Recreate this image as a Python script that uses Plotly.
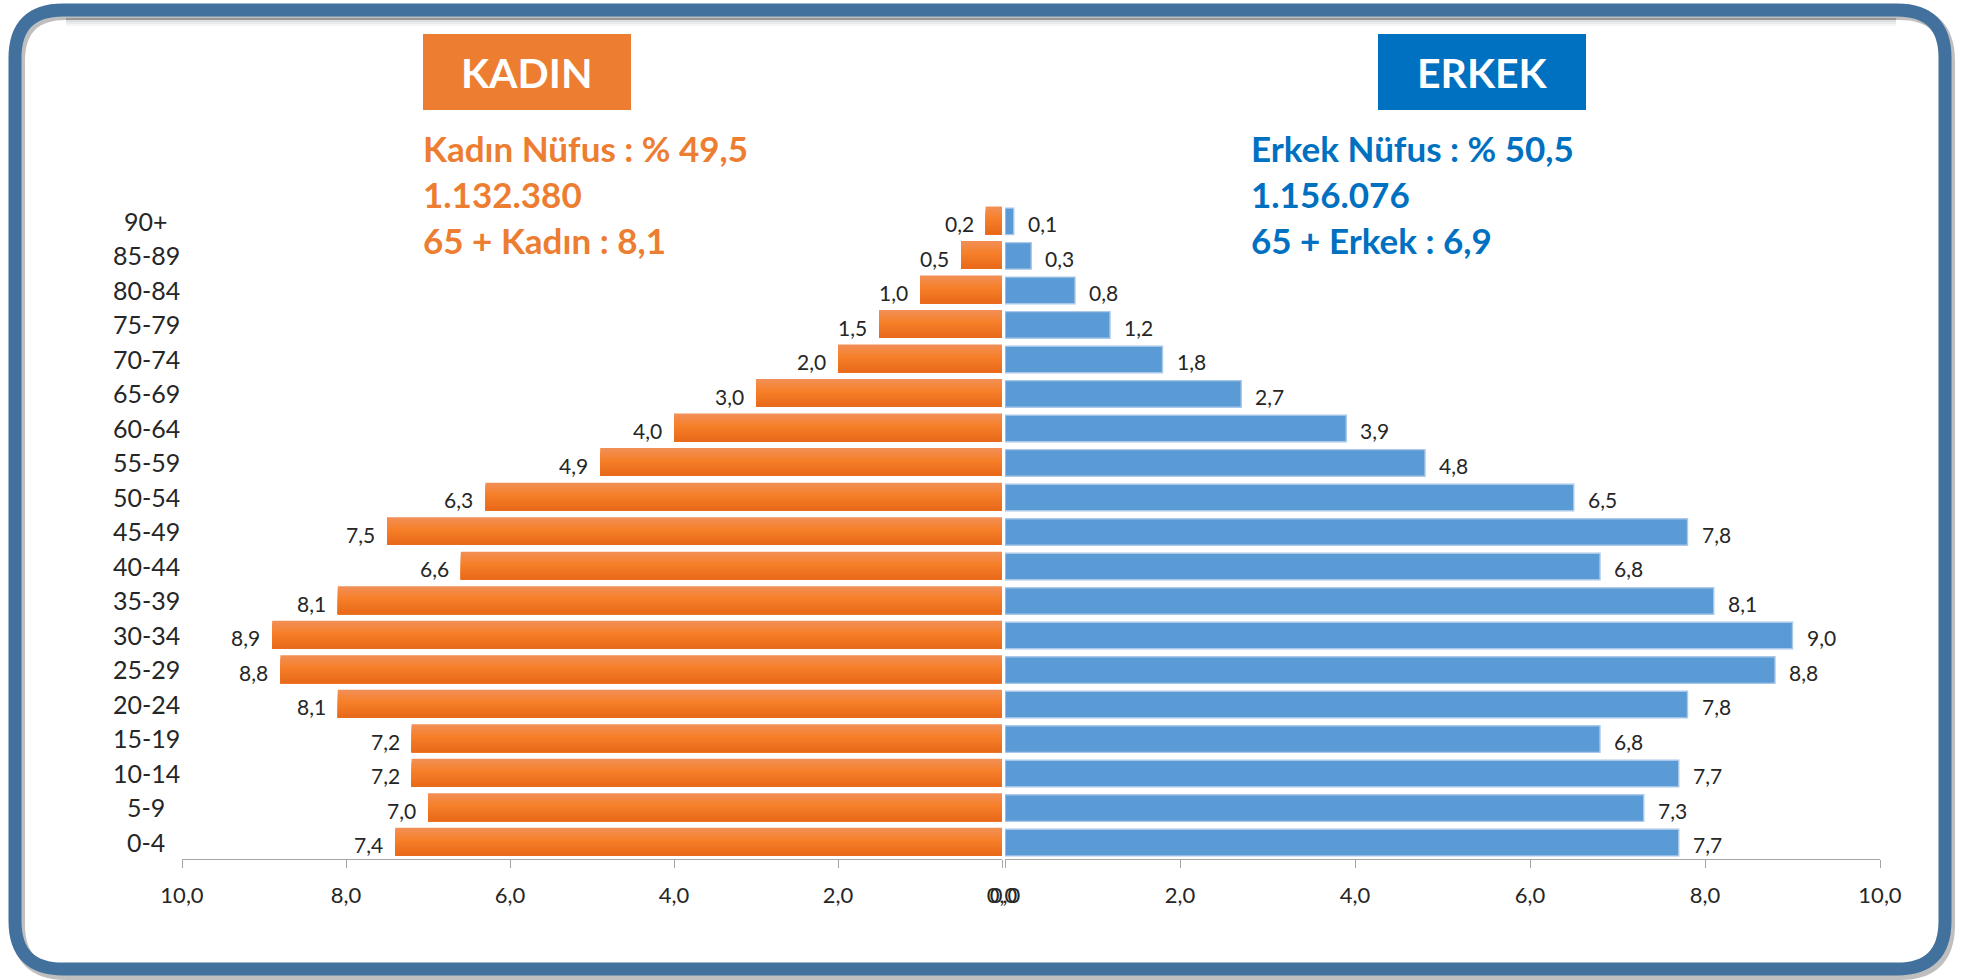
import plotly.graph_objects as go

W, H = 1961, 980

ages = ["90+", "85-89", "80-84", "75-79", "70-74", "65-69", "60-64", "55-59", "50-54",
        "45-49", "40-44", "35-39", "30-34", "25-29", "20-24", "15-19", "10-14", "5-9", "0-4"]
kadin = [0.2, 0.5, 1.0, 1.5, 2.0, 3.0, 4.0, 4.9, 6.3, 7.5, 6.6, 8.1, 8.9, 8.8, 8.1, 7.2, 7.2, 7.0, 7.4]
erkek = [0.1, 0.3, 0.8, 1.2, 1.8, 2.7, 3.9, 4.8, 6.5, 7.8, 6.8, 8.1, 9.0, 8.8, 7.8, 6.8, 7.7, 7.3, 7.7]
tick_vals = [0, 2, 4, 6, 8, 10]
tick_text = ["0,0", "2,0", "4,0", "6,0", "8,0", "10,0"]
kadin_title = "KADIN"
erkek_title = "ERKEK"
kadin_info = ["Kadın Nüfus : % 49,5", "1.132.380", "65 + Kadın : 8,1"]
erkek_info = ["Erkek Nüfus : % 50,5", "1.156.076", "65 + Erkek : 6,9"]

ORANGE = "#ED7D31"
BLUE_T = "#0070C0"
BAR_BL = "#5B9BD5"
FRAME = "#41719C"
TXT = "#262626"
FONT = "Lato"


def px(x):
    return x / W


def py(y):
    return 1 - y / H


def fmt(v):
    return f"{v:.1f}".replace(".", ",")


def grad(t):
    # orange vertical gradient: top light, middle saturated, bottom darker
    stops = [(0.0, (242, 144, 88)), (0.45, (246, 127, 40)), (1.0, (231, 104, 26))]
    for (t0, c0), (t1, c1) in zip(stops[:-1], stops[1:]):
        if t <= t1:
            f = (t - t0) / (t1 - t0)
            return "rgb(%d,%d,%d)" % tuple(round(a + (b - a) * f) for a, b in zip(c0, c1))
    return "rgb(%d,%d,%d)" % stops[-1][1]


fig = go.Figure()
BW = 0.81
N = 12
for i in range(N):
    off = -BW / 2 + i * BW / N
    fig.add_trace(go.Bar(y=ages, x=kadin, orientation="h", xaxis="x", yaxis="y",
                         width=BW / 2 - off, offset=off,
                         marker=dict(color=grad((i + 0.5) / N), line=dict(width=0)),
                         hoverinfo="skip", showlegend=False))
fig.add_trace(go.Bar(y=ages, x=erkek, orientation="h", xaxis="x2", yaxis="y",
                     width=0.77, offset=-0.36,
                     marker=dict(color=BAR_BL, line=dict(color="#A9C8EA", width=1.4)),
                     hoverinfo="skip", showlegend=False))

ann = []
for a, v in zip(ages, kadin):
    ann.append(dict(x=v, y=a, xref="x", yref="y", text=fmt(v), showarrow=False,
                    xanchor="right", yanchor="middle", xshift=-10, yshift=-3,
                    font=dict(family=FONT, size=21, color=TXT)))
for a, v in zip(ages, erkek):
    ann.append(dict(x=v, y=a, xref="x2", yref="y", text=fmt(v), showarrow=False,
                    xanchor="left", yanchor="middle", xshift=12, yshift=-3,
                    font=dict(family=FONT, size=21, color=TXT)))
for a in ages:
    ann.append(dict(x=px(146), y=a, xref="paper", yref="y", text=a, showarrow=False,
                    xanchor="center", yanchor="middle",
                    font=dict(family=FONT, size=25, color=TXT)))

# title boxes
shapes = []
shapes.append(dict(type="rect", xref="paper", yref="paper", x0=px(423), x1=px(631),
                   y0=py(110), y1=py(34), fillcolor=ORANGE, line=dict(width=0)))
shapes.append(dict(type="rect", xref="paper", yref="paper", x0=px(1378), x1=px(1586),
                   y0=py(110), y1=py(34), fillcolor=BLUE_T, line=dict(width=0)))
ann.append(dict(x=px(527), y=py(72), xref="paper", yref="paper", text=kadin_title,
                showarrow=False, xanchor="center", yanchor="middle",
                font=dict(family=FONT, size=41, color="white", weight=700)))
ann.append(dict(x=px(1482), y=py(72), xref="paper", yref="paper", text=erkek_title,
                showarrow=False, xanchor="center", yanchor="middle",
                font=dict(family=FONT, size=41, color="white", weight=700)))

for i, (tk, te) in enumerate(zip(kadin_info, erkek_info)):
    yy = [148, 194, 240][i]
    ann.append(dict(x=px(421), y=py(yy), xref="paper", yref="paper", text=tk,
                    showarrow=False, xanchor="left", yanchor="middle",
                    font=dict(family=FONT, size=35, color=ORANGE, weight=700)))
    ann.append(dict(x=px(1249), y=py(yy), xref="paper", yref="paper", text=te,
                    showarrow=False, xanchor="left", yanchor="middle",
                    font=dict(family=FONT, size=35, color=BLUE_T, weight=700)))


# rounded frame
def rrect(x0, y0, x1, y1, r):
    X0, X1 = px(x0), px(x1)
    Y0, Y1 = py(y0), py(y1)
    rx, ry = r / W, r / H
    return (f"M {X0 + rx},{Y0} L {X1 - rx},{Y0} Q {X1},{Y0} {X1},{Y0 - ry} "
            f"L {X1},{Y1 + ry} Q {X1},{Y1} {X1 - rx},{Y1} "
            f"L {X0 + rx},{Y1} Q {X0},{Y1} {X0},{Y1 + ry} "
            f"L {X0},{Y0 - ry} Q {X0},{Y0} {X0 + rx},{Y0} Z")


shapes.insert(0, dict(type="path", xref="paper", yref="paper", path=rrect(18, 13, 1948, 973, 48),
                      line=dict(color="rgba(0,0,0,0.25)", width=14), layer="below"))
shapes.append(dict(type="path", xref="paper", yref="paper", path=rrect(15, 10, 1945, 969, 48),
                   line=dict(color=FRAME, width=13)))
for k, op in enumerate([0.20, 0.13, 0.08, 0.04]):
    shapes.append(dict(type="line", xref="paper", yref="paper", x0=px(66), x1=px(1896),
                       y0=py(19 + k * 2), y1=py(19 + k * 2),
                       line=dict(color=f"rgba(0,0,0,{op})", width=2)))

axis_common = dict(showgrid=False, zeroline=False, showline=True, linecolor="#A6A6A6",
                   linewidth=1.3, ticks="outside", ticklen=8, tickcolor="#A6A6A6",
                   tickwidth=1.3, tickvals=tick_vals, ticktext=tick_text,
                   tickfont=dict(family=FONT, size=22, color=TXT), ticklabelstandoff=8,
                   fixedrange=True, automargin=False)

fig.update_layout(
    template="none",
    width=W, height=H, margin=dict(l=0, r=0, t=0, b=0, pad=0, autoexpand=False),
    paper_bgcolor="white", plot_bgcolor="rgba(0,0,0,0)",
    barmode="overlay",
    xaxis=dict(domain=[px(182), px(1002)], range=[10, 0], anchor="y", **axis_common),
    xaxis2=dict(domain=[px(1005), px(1880)], range=[0, 10], anchor="y", **axis_common),
    yaxis=dict(domain=[py(859), py(203)], autorange="reversed", showticklabels=False,
               showgrid=False, zeroline=False, showline=False, ticks="", fixedrange=True,
               automargin=False),
    shapes=shapes, annotations=ann, showlegend=False,
)

fig.write_html("out.html", config={"displayModeBar": False},
               post_script="document.body.style.margin='0';document.body.style.overflow='hidden';")
